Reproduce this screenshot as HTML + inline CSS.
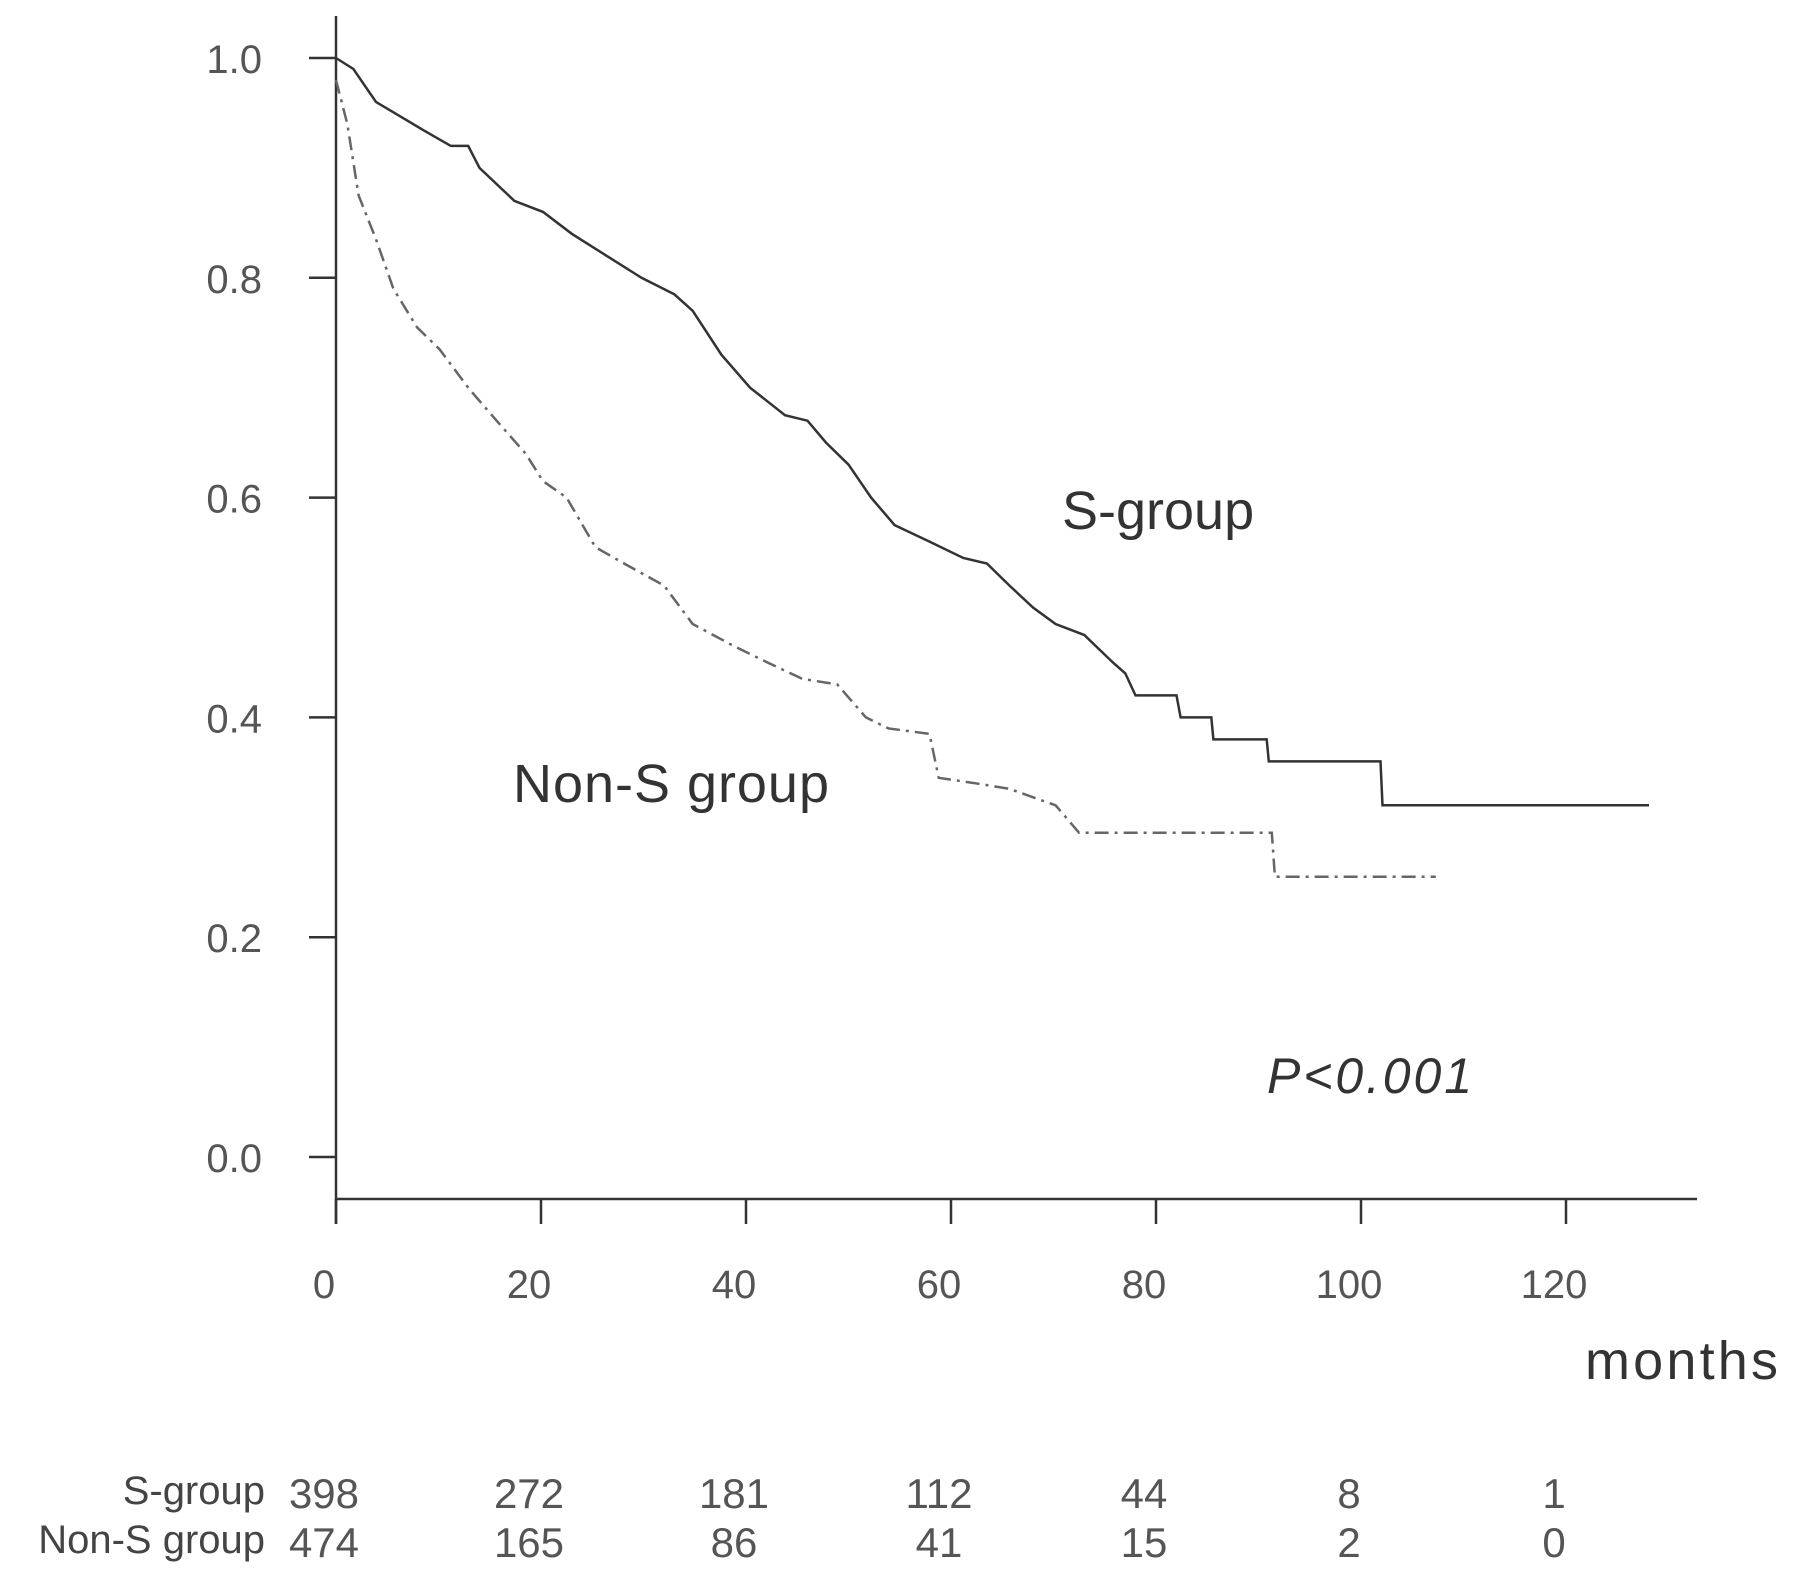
<!DOCTYPE html>
<html><head><meta charset="utf-8"><style>
html,body{margin:0;padding:0;background:#fff;}
svg{display:block;font-family:"Liberation Sans",sans-serif;}
</style></head><body>
<svg id="chart" width="1795" height="1580" viewBox="0 0 1795 1580" xmlns="http://www.w3.org/2000/svg">
<g id="axes"></g>
<g id="series"></g>
<g id="labels"></g>
</svg>
<script>
const xTicks = [0,20,40,60,80,100,120];
const yTicks = [0.0,0.2,0.4,0.6,0.8,1.0];
const yTickLabels = ["0.0","0.2","0.4","0.6","0.8","1.0"];
const sTimes = [0,1.7,3.9,8.4,11.2,12.9,14,17.4,20.2,23,26.4,29.8,33,34.8,37.6,40.4,43.8,46,47.8,50,52.2,54.5,57.9,61.2,63.5,65.7,68,70.2,73,75.8,77,78,82,82.4,85.4,85.6,90.8,91,101.9,102.1,128.1];
const sSurv = [1.0,0.99,0.96,0.935,0.92,0.92,0.90,0.87,0.86,0.84,0.82,0.80,0.785,0.77,0.73,0.70,0.675,0.67,0.65,0.63,0.60,0.575,0.56,0.545,0.54,0.52,0.50,0.485,0.475,0.45,0.44,0.42,0.42,0.40,0.40,0.38,0.38,0.36,0.36,0.32,0.32];
const nTimes = [0,1.1,2.2,3.9,5.6,7.9,10.1,12.9,15.2,18.5,20.2,22.5,25.3,28.1,32,34.8,38.8,42.1,45.5,48.9,51.7,53.9,57.9,58.8,62.4,65.7,70.2,72.5,91.3,91.6,107.3];
const nSurv = [0.98,0.94,0.875,0.835,0.79,0.755,0.735,0.70,0.675,0.64,0.615,0.60,0.555,0.54,0.52,0.485,0.465,0.45,0.435,0.43,0.40,0.39,0.385,0.345,0.34,0.335,0.32,0.295,0.295,0.255,0.255];
const riskS = [398,272,181,112,44,8,1];
const riskN = [474,165,86,41,15,2,0];

const NS="http://www.w3.org/2000/svg";
const x = t => 336 + t*10.25;
const y = v => 1157 - v*1099;
function mk(parent, tag, attrs, text){
  const e=document.createElementNS(NS,tag);
  for(const k in attrs) e.setAttribute(k,attrs[k]);
  if(text!==undefined) e.textContent=text;
  parent.appendChild(e); return e;
}
const axes=document.getElementById('axes');
const series=document.getElementById('series');
const labels=document.getElementById('labels');
const ax = {stroke:"#333","stroke-width":2.5,fill:"none"};
let e;
e=mk(axes,'line',Object.assign({x1:336,y1:16,x2:336,y2:1224},ax));


e=mk(axes,'line',Object.assign({x1:336,y1:1199,x2:1697,y2:1199},ax));


yTicks.forEach((v,i)=>{
  let t=mk(axes,'line',Object.assign({x1:309,y1:y(v),x2:336,y2:y(v)},ax));
  
  
  let l=mk(axes,'text',{x:262,y:y(v)+15,"text-anchor":"end","font-size":40,fill:"#555"},yTickLabels[i]);
  
  
});
xTicks.forEach(v=>{
  let t=mk(axes,'line',Object.assign({x1:x(v),y1:1199,x2:x(v),y2:1224},ax));
  
  
  let l=mk(axes,'text',{x:x(v)-12,y:1298,"text-anchor":"middle","font-size":40,fill:"#555"},String(v));
  
  
});
function pathOf(ts,ss){return ts.map((t,i)=>(i?'L':'M')+x(t).toFixed(1)+' '+y(ss[i]).toFixed(1)).join(' ');}
e=mk(series,'path',{d:pathOf(sTimes,sSurv),stroke:"#333","stroke-width":2.5,fill:"none"});


e=mk(series,'path',{d:pathOf(nTimes,nSurv),stroke:"#666","stroke-width":2.5,fill:"none","stroke-dasharray":"14 6 3 6"});



e=mk(labels,'text',{x:1062,y:529,"font-size":54,fill:"#333"},"S-group");


e=mk(labels,'text',{x:513,y:802,"font-size":54,fill:"#333","textLength":316},"Non-S group");


e=mk(labels,'text',{x:1267,y:1093,"font-size":50,"font-style":"italic",fill:"#333","textLength":205},"P<0.001");


e=mk(labels,'text',{x:1778,y:1379,"text-anchor":"end","font-size":54,fill:"#333","textLength":193},"months");


e=mk(labels,'text',{x:265,y:1504,"text-anchor":"end","font-size":40,fill:"#444"},"S-group");


e=mk(labels,'text',{x:265,y:1553,"text-anchor":"end","font-size":40,fill:"#444"},"Non-S group");


xTicks.forEach((v,i)=>{
  let a=mk(labels,'text',{x:x(v)-12,y:1508,"text-anchor":"middle","font-size":42,fill:"#555"},String(riskS[i]));
  
  
  let b=mk(labels,'text',{x:x(v)-12,y:1557,"text-anchor":"middle","font-size":42,fill:"#555"},String(riskN[i]));
  
  
});
</script>
</body></html>
